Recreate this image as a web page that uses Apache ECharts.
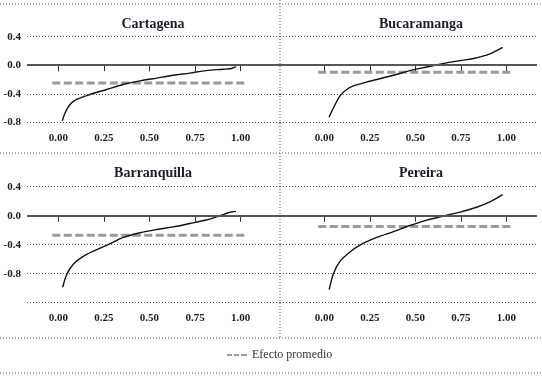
<!DOCTYPE html>
<html>
<head>
<meta charset="utf-8">
<script src="https://cdn.jsdelivr.net/npm/echarts@6/dist/echarts.min.js"></script>
<style>
  html, body { margin: 0; padding: 0; background: #fff; }
  #chart { width: 542px; height: 378px; }
</style>
</head>
<body>
<div id="chart"></div>
<script>
// datos
const ciudades = ['Cartagena', 'Bucaramanga', 'Barranquilla', 'Pereira'];
const efectoPromedio = [-0.25, -0.10, -0.27, -0.15];
const xTicks = [0, 0.25, 0.5, 0.75, 1];
const rangoPromedio = [-0.033, 1.03];

const cartagenaX = [0.022, 0.037, 0.064, 0.10, 0.174, 0.265, 0.356, 0.448, 0.54, 0.63, 0.72, 0.81, 0.905, 0.95, 0.974];
const cartagenaY = [-0.78, -0.67, -0.55, -0.48, -0.41, -0.34, -0.27, -0.22, -0.18, -0.14, -0.11, -0.075, -0.056, -0.046, -0.02];

const bucaramangaX = [0.026, 0.05, 0.086, 0.123, 0.16, 0.25, 0.38, 0.47, 0.563, 0.654, 0.746, 0.82, 0.91, 0.98];
const bucaramangaY = [-0.73, -0.60, -0.43, -0.34, -0.29, -0.225, -0.14, -0.075, -0.025, 0.025, 0.065, 0.095, 0.16, 0.25];

const barranquillaX = [0.024, 0.046, 0.082, 0.128, 0.192, 0.265, 0.357, 0.448, 0.54, 0.63, 0.722, 0.81, 0.886, 0.94, 0.974];
const barranquillaY = [-0.987, -0.81, -0.67, -0.575, -0.49, -0.41, -0.30, -0.235, -0.19, -0.154, -0.107, -0.06, 0, 0.047, 0.06];

const pereiraX = [0.027, 0.05, 0.086, 0.141, 0.196, 0.288, 0.38, 0.471, 0.563, 0.654, 0.746, 0.837, 0.91, 0.98];
const pereiraY = [-1.02, -0.80, -0.63, -0.50, -0.405, -0.30, -0.22, -0.135, -0.06, -0.005, 0.05, 0.117, 0.19, 0.29];

const curvasX = [cartagenaX, bucaramangaX, barranquillaX, pereiraX];
const curvasY = [cartagenaY, bucaramangaY, barranquillaY, pereiraY];

const fuente = 'Liberation Serif';
const colorTexto = '#1c1c28';

// paneles: arriba izq, arriba der, abajo izq, abajo der
const grids = [
  { left: 27, top: 36.7, width: 253, height: 85.6 },
  { left: 280, top: 36.7, width: 257, height: 85.6 },
  { left: 27, top: 186.7, width: 253, height: 116 },
  { left: 280, top: 186.7, width: 257, height: 116 }
];
const xExt = [[-0.1716, 1.2155], [-0.2434, 1.1687], [-0.1716, 1.2155], [-0.2434, 1.1687]];
const yExt = [[-0.8, 0.4], [-0.8, 0.4], [-1.2, 0.4], [-1.2, 0.4]];
const tituloX = [148, 416, 148, 416];
const tituloY = [12, 12, 161, 161];

const xAxes = [], yAxes = [], series = [], titles = [];

for (let i = 0; i < 4; i++) {
  xAxes.push({
    type: 'value',
    gridIndex: i,
    min: xExt[i][0],
    max: xExt[i][1],
    axisLine: { show: false },
    splitLine: { show: false },
    axisTick: { show: true, customValues: xTicks, length: 6, lineStyle: { color: '#333', width: 1 } },
    axisLabel: {
      customValues: xTicks,
      margin: 10,
      fontFamily: fuente,
      fontSize: 11,
      fontWeight: 'bold',
      color: colorTexto,
      formatter: v => v.toFixed(2)
    }
  });
  yAxes.push({
    type: 'value',
    gridIndex: i,
    min: yExt[i][0],
    max: yExt[i][1],
    interval: 0.4,
    axisLine: { show: false },
    axisTick: { show: false },
    axisLabel: {
      show: i % 2 === 0,
      margin: 6,
      fontFamily: fuente,
      fontSize: 11,
      fontWeight: 'bold',
      color: colorTexto,
      formatter: v => (v < -1 ? '' : v.toFixed(1))
    },
    splitLine: { show: true, lineStyle: { color: '#555', width: 1, type: [1, 2] } }
  });
  series.push({
    name: 'Efecto promedio',
    type: 'line',
    xAxisIndex: i,
    yAxisIndex: i,
    data: [[rangoPromedio[0], efectoPromedio[i]], [rangoPromedio[1], efectoPromedio[i]]],
    symbol: 'none',
    lineStyle: { color: '#9a9a9a', width: 3, type: [8, 3.5] },
    itemStyle: { color: '#9a9a9a' },
    silent: true,
    z: 2,
    markLine: {
      silent: true,
      symbol: 'none',
      label: { show: false },
      lineStyle: { color: '#555', width: 2, type: 'solid' },
      data: [{ yAxis: 0 }]
    }
  });
  series.push({
    name: ciudades[i],
    type: 'line',
    xAxisIndex: i,
    yAxisIndex: i,
    data: curvasX[i].map((x, k) => [x, curvasY[i][k]]),
    symbol: 'none',
    smooth: 0.3,
    lineStyle: { color: '#111', width: 1.4 },
    silent: true,
    z: 3
  });
  titles.push({
    text: ciudades[i],
    left: tituloX[i],
    top: tituloY[i],
    textAlign: 'center',
    textStyle: { fontFamily: fuente, fontSize: 14, fontWeight: 'bold', color: colorTexto }
  });
}

// bordes punteados de los paneles
const punteado = { stroke: '#555', lineWidth: 1, lineDash: [1, 2] };
const bordes = [
  [0, 4, 542, 4],
  [0, 153, 542, 153],
  [0, 338, 542, 338],
  [0, 373, 542, 373],
  [280, 0, 280, 338]
].map(b => ({
  type: 'line',
  silent: true,
  shape: { x1: b[0], y1: b[1], x2: b[2], y2: b[3] },
  style: punteado
}));

const chart = echarts.init(document.getElementById('chart'));
chart.setOption({
  animation: false,
  backgroundColor: '#fff',
  title: titles,
  grid: grids,
  xAxis: xAxes,
  yAxis: yAxes,
  legend: {
    data: [{
      name: 'Efecto promedio',
      icon: 'path://M0,0h5v2h-5z M7,0h5v2h-5z M14,0h6v2h-6z',
      itemStyle: { color: '#9a9a9a' }
    }],
    left: 227,
    top: 349,
    padding: 0,
    itemWidth: 20,
    itemHeight: 3,
    itemGap: 5,
    textStyle: { fontFamily: fuente, fontSize: 12, color: '#333' }
  },
  graphic: bordes,
  series: series
});
</script>
</body>
</html>
